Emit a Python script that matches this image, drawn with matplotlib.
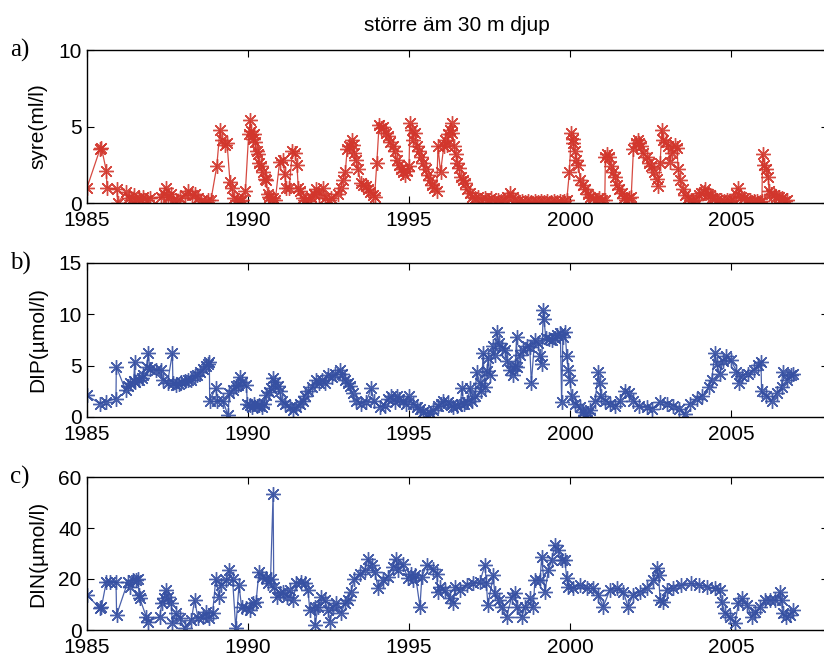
import matplotlib
matplotlib.use('Agg')
import matplotlib.pyplot as plt

# Données (année décimale, valeur)

# a) syre (ml/l)
syre_annee = [1985.00, 1985.40, 1985.45, 1985.60, 1985.62, 1985.93, 1985.95, 1986.20, 1986.30, 1986.38,
              1986.45, 1986.52, 1986.60, 1986.68, 1986.75, 1986.85, 1986.95, 1987.30, 1987.38, 1987.45,
              1987.52, 1987.60, 1987.68, 1987.78, 1987.90, 1988.05, 1988.15, 1988.25, 1988.35, 1988.45,
              1988.55, 1988.65, 1988.75, 1988.85, 1989.03, 1989.13, 1989.18, 1989.28, 1989.35, 1989.44,
              1989.50, 1989.58, 1989.65, 1989.75, 1989.82, 1989.92, 1990.02, 1990.07, 1990.10, 1990.14,
              1990.18, 1990.22, 1990.27, 1990.30, 1990.35, 1990.40, 1990.47, 1990.52, 1990.56, 1990.62,
              1990.66, 1990.72, 1990.78, 1990.85, 1990.98, 1991.08, 1991.14, 1991.18, 1991.28, 1991.38,
              1991.45, 1991.52, 1991.56, 1991.62, 1991.70, 1991.78, 1991.88, 1991.96, 1992.05, 1992.12,
              1992.22, 1992.33, 1992.40, 1992.50, 1992.58, 1992.80, 1992.88, 1992.95, 1993.02, 1993.08,
              1993.15, 1993.22, 1993.26, 1993.30, 1993.36, 1993.42, 1993.50, 1993.58, 1993.65, 1993.72,
              1993.80, 1993.88, 1993.93, 1994.00, 1994.07, 1994.12, 1994.20, 1994.28, 1994.35, 1994.42,
              1994.50, 1994.55, 1994.62, 1994.68, 1994.75, 1994.80, 1994.88, 1994.95, 1995.00, 1995.03,
              1995.08, 1995.12, 1995.18, 1995.24, 1995.30, 1995.38, 1995.45, 1995.52, 1995.58, 1995.65,
              1995.72, 1995.78, 1995.86, 1995.90, 1995.98, 1996.08, 1996.13, 1996.18, 1996.22, 1996.27,
              1996.32, 1996.35, 1996.40, 1996.45, 1996.50, 1996.55, 1996.60, 1996.67, 1996.74, 1996.80,
              1996.88, 1996.95, 1997.05, 1997.15, 1997.25, 1997.35, 1997.45, 1997.55, 1997.65, 1997.75,
              1997.85, 1997.95, 1998.05, 1998.14, 1998.22, 1998.30, 1998.40, 1998.50, 1998.60, 1998.70,
              1998.80, 1998.90, 1999.00, 1999.10, 1999.20, 1999.30, 1999.40, 1999.50, 1999.60, 1999.70,
              1999.80, 1999.90, 1999.98, 2000.04, 2000.08, 2000.10, 2000.15, 2000.20, 2000.26, 2000.32,
              2000.40, 2000.48, 2000.56, 2000.62, 2000.70, 2000.80, 2000.90, 2001.00, 2001.08, 2001.10,
              2001.16, 2001.22, 2001.28, 2001.35, 2001.40, 2001.46, 2001.52, 2001.60, 2001.68, 2001.75,
              2001.82, 2001.90, 2001.97, 2002.05, 2002.10, 2002.15, 2002.20, 2002.28, 2002.38, 2002.45,
              2002.52, 2002.60, 2002.69, 2002.74, 2002.80, 2002.85, 2002.90, 2002.97, 2003.05, 2003.10,
              2003.16, 2003.25, 2003.32, 2003.36, 2003.42, 2003.52, 2003.58, 2003.66, 2003.75, 2003.82,
              2003.90, 2004.00, 2004.08, 2004.15, 2004.20, 2004.28, 2004.35, 2004.42, 2004.50, 2004.58,
              2004.68, 2004.78, 2004.88, 2004.98, 2005.07, 2005.15, 2005.23, 2005.30, 2005.40, 2005.50,
              2005.60, 2005.70, 2005.80, 2005.90, 2005.96, 2005.98, 2006.04, 2006.10, 2006.16, 2006.18,
              2006.25, 2006.32, 2006.40, 2006.50, 2006.58, 2006.67, 2006.75]
syre = [1.0, 3.5, 3.6, 2.1, 1.0, 0.9, 0.0, 0.7, 0.3, 0.2,
        0.5, 0.1, 0.3, 0.2, 0.4, 0.2, 0.3, 0.4, 0.6, 1.0,
        0.4, 0.6, 0.2, 0.1, 0.3, 0.5, 0.8, 0.5, 0.6, 0.3,
        0.1, 0.0, 0.2, 0.2, 2.4, 4.8, 4.1, 3.8, 3.9, 1.4,
        1.0, 0.3, 0.2, 0.1, 0.2, 0.8, 4.5, 5.4, 4.7, 4.2,
        4.5, 4.0, 3.4, 3.2, 2.6, 2.4, 2.0, 1.6, 1.5, 0.6,
        0.4, 0.2, 0.3, 0.2, 2.7, 2.8, 1.9, 1.0, 1.0, 3.4,
        3.3, 2.5, 1.0, 0.8, 0.3, 0.2, 0.1, 0.4, 0.6, 0.9,
        0.5, 1.0, 0.3, 0.2, 0.3, 0.6, 1.0, 1.5, 2.0, 3.5,
        3.7, 4.1, 3.8, 3.3, 2.8, 2.2, 1.3, 1.2, 1.1, 0.9,
        0.7, 0.5, 0.4, 2.6, 5.1, 4.9, 5.0, 4.6, 4.4, 4.0,
        3.7, 3.4, 2.8, 2.5, 2.2, 2.0, 1.85, 2.1, 2.4, 5.2,
        4.8, 4.1, 4.6, 3.7, 3.4, 3.0, 2.6, 2.2, 1.8, 1.5,
        1.2, 1.0, 0.8, 3.7, 2.0, 3.7, 4.1, 3.8, 4.5, 4.8,
        5.2, 4.6, 3.7, 3.2, 2.6, 2.3, 1.7, 1.5, 1.3, 0.9,
        0.65, 0.4, 0.3, 0.4, 0.2, 0.3, 0.2, 0.3, 0.15, 0.2,
        0.1, 0.2, 0.4, 0.65, 0.4, 0.2, 0.1, 0.1, 0.05, 0.1,
        0.05, 0.1, 0.05, 0.1, 0.05, 0.1, 0.05, 0.1, 0.05, 0.1,
        0.1, 0.2, 2.0, 4.6, 4.2, 3.9, 3.4, 2.8, 2.5, 1.5,
        1.2, 0.9, 0.6, 0.4, 0.3, 0.2, 0.3, 0.2, 0.2, 3.0,
        3.2, 3.0, 2.4, 2.0, 1.7, 1.2, 0.9, 0.65, 0.3, 0.2,
        0.3, 0.4, 3.5, 3.9, 4.1, 3.9, 3.7, 3.3, 3.0, 2.6,
        2.4, 2.0, 1.6, 1.1, 2.6, 4.8, 4.1, 4.0, 3.7, 2.7,
        3.3, 3.8, 3.6, 2.2, 1.5, 0.9, 0.5, 0.3, 0.2, 0.1,
        0.2, 0.5, 0.65, 0.7, 0.9, 0.6, 0.5, 0.3, 0.3, 0.2,
        0.2, 0.1, 0.2, 0.15, 0.2, 0.6, 1.0, 0.4, 0.3, 0.2,
        0.2, 0.1, 0.1, 0.05, 0.1, 3.2, 2.5, 2.2, 1.7, 0.8,
        0.6, 0.5, 0.4, 0.4, 0.3, 0.1, 0.2]

# b) DIP (µmol/l)
dip_annee = [1985.00, 1985.40, 1985.60, 1985.90, 1985.91, 1986.20, 1986.28, 1986.35, 1986.45, 1986.48,
             1986.50, 1986.60, 1986.70, 1986.74, 1986.85, 1986.90, 1986.95, 1987.15, 1987.30, 1987.35,
             1987.50, 1987.65, 1987.67, 1987.75, 1987.85, 1987.93, 1988.05, 1988.15, 1988.24, 1988.35,
             1988.42, 1988.50, 1988.60, 1988.70, 1988.76, 1988.80, 1988.81, 1989.00, 1989.05, 1989.22,
             1989.38, 1989.42, 1989.52, 1989.62, 1989.69, 1989.75, 1989.82, 1989.95, 1989.98, 1990.05,
             1990.12, 1990.20, 1990.28, 1990.35, 1990.42, 1990.50, 1990.57, 1990.65, 1990.72, 1990.77,
             1990.85, 1990.92, 1990.98, 1991.05, 1991.15, 1991.30, 1991.40, 1991.50, 1991.60, 1991.70,
             1991.76, 1991.85, 1992.00, 1992.12, 1992.20, 1992.30, 1992.40, 1992.48, 1992.60, 1992.70,
             1992.85, 1992.92, 1993.00, 1993.10, 1993.16, 1993.25, 1993.36, 1993.50, 1993.67, 1993.83,
             1993.90, 1994.09, 1994.25, 1994.35, 1994.45, 1994.55, 1994.62, 1994.70, 1994.80, 1994.90,
             1995.00, 1995.12, 1995.25, 1995.34, 1995.45, 1995.55, 1995.65, 1995.76, 1995.90, 1996.00,
             1996.07, 1996.22, 1996.30, 1996.38, 1996.50, 1996.60, 1996.64, 1996.70, 1996.80, 1996.90,
             1996.95, 1997.05, 1997.10, 1997.20, 1997.25, 1997.30, 1997.35, 1997.42, 1997.46, 1997.50,
             1997.60, 1997.66, 1997.72, 1997.80, 1997.90, 1997.98, 1998.05, 1998.14, 1998.22, 1998.30,
             1998.34, 1998.36, 1998.45, 1998.55, 1998.65, 1998.75, 1998.80, 1998.90, 1999.00, 1999.07,
             1999.12, 1999.17, 1999.19, 1999.25, 1999.35, 1999.43, 1999.52, 1999.60, 1999.70, 1999.74,
             1999.78, 1999.85, 1999.90, 1999.95, 2000.00, 2000.05, 2000.15, 2000.30, 2000.40, 2000.47,
             2000.55, 2000.62, 2000.78, 2000.88, 2000.92, 2000.96, 2001.09, 2001.25, 2001.40, 2001.55,
             2001.70, 2001.82, 2001.97, 2002.15, 2002.38, 2002.55, 2002.80, 2003.00, 2003.20, 2003.40,
             2003.57, 2003.72, 2003.93, 2004.10, 2004.31, 2004.40, 2004.50, 2004.55, 2004.65, 2004.75,
             2004.86, 2005.00, 2005.17, 2005.25, 2005.35, 2005.54, 2005.70, 2005.85, 2005.93, 2005.95,
             2006.10, 2006.26, 2006.42, 2006.57, 2006.60, 2006.75, 2006.85, 2006.94]
dip = [2.1, 1.3, 1.5, 1.8, 4.9, 2.6, 3.0, 3.3, 3.5, 5.4,
       3.4, 3.6, 3.8, 4.1, 4.9, 6.2, 4.7, 4.6, 4.6, 3.6,
       3.3, 6.2, 3.3, 3.1, 3.2, 3.4, 3.5, 3.6, 3.6, 4.0,
       4.1, 4.4, 4.7, 5.0, 5.2, 5.4, 1.6, 2.8, 1.6, 1.6,
       0.15, 2.3, 2.6, 3.0, 3.1, 3.9, 3.4, 3.1, 1.3, 1.2,
       1.0, 1.3, 1.1, 1.2, 1.0, 1.3, 2.1, 2.4, 2.8, 3.8,
       3.4, 3.0, 2.5, 1.6, 1.3, 1.0, 0.65, 1.0, 1.3, 1.6,
       2.0, 2.5, 2.9, 3.6, 3.3, 3.6, 3.3, 4.1, 3.9, 4.2,
       4.6, 4.2, 3.6, 3.3, 3.0, 2.3, 1.6, 1.3, 1.5, 2.8,
       1.6, 1.0, 1.1, 1.8, 2.0, 1.5, 2.0, 1.8, 1.6, 1.3,
       2.0, 1.3, 1.0, 0.8, 0.5, 0.3, 0.4, 0.65, 1.1, 1.3,
       1.6, 1.5, 1.2, 1.0, 1.1, 1.3, 2.8, 1.3, 1.5, 2.8,
       1.6, 2.0, 4.4, 3.3, 2.5, 6.2, 2.9, 4.5, 5.7, 4.1,
       6.9, 6.0, 8.3, 7.2, 6.7, 6.5, 5.5, 4.6, 4.1, 5.0,
       7.8, 4.9, 6.0, 6.5, 6.9, 6.8, 3.3, 7.5, 7.2, 5.9,
       5.2, 10.4, 9.5, 7.7, 7.6, 7.5, 7.7, 8.0, 8.2, 1.5,
       7.8, 8.3, 5.9, 4.6, 3.6, 2.0, 1.3, 1.0, 0.5, 0.15,
       0.4, 0.65, 1.6, 4.4, 3.3, 2.0, 1.6, 1.3, 1.1, 1.6,
       2.5, 2.3, 1.6, 1.1, 1.0, 0.8, 1.5, 1.3, 1.1, 0.8,
       0.3, 1.3, 1.8, 2.0, 2.9, 3.6, 6.2, 5.2, 4.2, 5.5,
       5.9, 5.6, 4.4, 3.3, 4.0, 4.2, 4.6, 5.1, 5.4, 2.5,
       2.0, 1.6, 2.3, 2.9, 4.4, 3.6, 4.1, 4.2]

# c) DIN (µmol/l)
din_annee = [1985.00, 1985.40, 1985.45, 1985.60, 1985.70, 1985.90, 1985.92, 1986.27, 1986.35, 1986.42,
             1986.53, 1986.58, 1986.62, 1986.64, 1986.84, 1986.88, 1987.26, 1987.32, 1987.38, 1987.46,
             1987.52, 1987.62, 1987.65, 1987.77, 1987.88, 1988.03, 1988.24, 1988.34, 1988.45, 1988.60,
             1988.70, 1988.80, 1988.90, 1989.00, 1989.10, 1989.15, 1989.33, 1989.41, 1989.52, 1989.62,
             1989.72, 1989.80, 1989.95, 1990.05, 1990.15, 1990.25, 1990.34, 1990.45, 1990.57, 1990.62,
             1990.70, 1990.78, 1990.80, 1990.90, 1991.00, 1991.10, 1991.20, 1991.30, 1991.40, 1991.50,
             1991.65, 1991.76, 1991.86, 1991.92, 1992.07, 1992.08, 1992.18, 1992.28, 1992.38, 1992.48,
             1992.54, 1992.65, 1992.74, 1992.90, 1993.00, 1993.10, 1993.20, 1993.30, 1993.47, 1993.62,
             1993.73, 1993.84, 1993.94, 1994.04, 1994.20, 1994.35, 1994.50, 1994.59, 1994.66, 1994.81,
             1994.96, 1995.07, 1995.12, 1995.20, 1995.34, 1995.40, 1995.55, 1995.75, 1995.86, 1995.90,
             1995.95, 1996.12, 1996.28, 1996.38, 1996.43, 1996.58, 1996.80, 1997.00, 1997.20, 1997.36,
             1997.40, 1997.45, 1997.62, 1997.66, 1997.78, 1997.88, 1998.03, 1998.19, 1998.30, 1998.34,
             1998.50, 1998.60, 1998.76, 1998.86, 1998.91, 1999.07, 1999.12, 1999.22, 1999.33, 1999.43,
             1999.53, 1999.64, 1999.74, 1999.84, 1999.90, 1999.95, 2000.10, 2000.31, 2000.52, 2000.72,
             2000.88, 2001.03, 2001.24, 2001.45, 2001.66, 2001.80, 2001.96, 2002.17, 2002.38, 2002.59,
             2002.70, 2002.75, 2002.80, 2002.90, 2003.00, 2003.20, 2003.46, 2003.76, 2004.02, 2004.24,
             2004.50, 2004.66, 2004.71, 2004.81, 2004.97, 2005.12, 2005.23, 2005.33, 2005.50, 2005.65,
             2005.75, 2005.90, 2006.06, 2006.22, 2006.37, 2006.53, 2006.57, 2006.60, 2006.70, 2006.83,
             2006.93]
din = [13.7, 8.5, 9.0, 19.0, 19.0, 19.0, 5.9, 19.0, 17.0, 19.6,
       19.6, 20.0, 13.7, 12.4, 5.2, 3.3, 5.2, 10.4, 12.4, 15.7,
       13.0, 10.4, 2.6, 6.5, 4.6, 0.65, 3.9, 11.7, 4.6, 5.2,
       7.2, 4.6, 6.5, 20.0, 13.0, 17.6, 19.6, 23.5, 20.0, 0.65,
       17.6, 9.1, 8.5, 7.8, 10.4, 11.0, 22.8, 20.9, 20.2, 18.3,
       20.0, 53.5, 17.0, 13.0, 14.4, 15.0, 13.0, 15.7, 11.7, 18.3,
       19.0, 18.3, 15.7, 7.8, 9.1, 2.0, 9.1, 13.0, 11.7, 7.8,
       3.3, 9.1, 10.4, 6.5, 10.4, 11.7, 15.0, 20.0, 22.0, 23.5,
       28.0, 25.5, 22.8, 16.3, 19.6, 20.9, 24.8, 28.0, 23.5, 26.0,
       20.2, 22.0, 19.6, 21.5, 9.1, 20.9, 25.5, 24.0, 22.0, 15.0,
       17.0, 15.7, 12.4, 10.4, 17.0, 15.7, 17.6, 18.3, 19.0, 25.5,
       18.3, 9.8, 21.5, 14.4, 11.7, 9.1, 5.2, 13.0, 14.4, 9.1,
       5.2, 9.1, 12.4, 9.1, 19.6, 19.6, 28.7, 15.0, 23.5, 27.4,
       33.3, 31.3, 27.4, 27.4, 20.2, 17.0, 16.3, 17.6, 16.3, 16.3,
       13.7, 9.1, 15.7, 16.3, 15.0, 9.1, 13.7, 15.0, 16.3, 19.6,
       24.2, 21.5, 11.7, 11.0, 15.7, 16.3, 17.6, 18.3, 17.6, 17.0,
       16.3, 15.7, 11.0, 6.5, 5.2, 2.6, 10.4, 12.4, 9.8, 5.2,
       7.2, 9.1, 11.7, 11.7, 11.7, 15.0, 11.7, 6.5, 5.2, 5.9,
       7.8]

rouge = '#d2362c'
bleu = '#3650a2'

plt.rcParams['font.family'] = ['Liberation Sans', 'DejaVu Sans']

fig = plt.figure(figsize=(8.24, 6.58), dpi=100)

# positions des axes (en fraction de la figure)
gauche = 87 / 824
largeur = (827.6 - 87) / 824
panneaux = [
    (syre_annee, syre, rouge, 'syre(ml/l)', [0, 5, 10], (0, 10), 'a)', 203, 50),
    (dip_annee, dip, bleu, 'DIP(µmol/l)', [0, 5, 10, 15], (0, 15), 'b)', 417, 263),
    (din_annee, din, bleu, 'DIN(µmol/l)', [0, 20, 40, 60], (0, 60), 'c)', 630, 477),
]

for annee, val, couleur, label, yticks, ylim, lettre, bas, haut in panneaux:
    ax = fig.add_axes([gauche, 1 - bas / 658, largeur, (bas - haut) / 658])
    ax.plot(annee, val, color=couleur, linewidth=0.9, marker=(8, 2, 0),
            markersize=10.5, markeredgewidth=1.0, markeredgecolor=couleur, alpha=0.9)
    ax.set_xlim(1985, 2008)
    ax.set_ylim(*ylim)
    ax.set_xticks([1985, 1990, 1995, 2000, 2005])
    ax.set_yticks(yticks)
    ax.tick_params(direction='in', top=True, right=True, length=5, width=0.8,
                   labelsize=15, pad=4)
    ax.tick_params(axis='x', pad=6)
    ax.set_ylabel(label, fontsize=15, labelpad=8)
    for s in ax.spines.values():
        s.set_linewidth(1.0)
    fig.text(10 / 824, 1 - haut / 658, lettre, family='Liberation Serif',
             fontsize=18, va='center', ha='left')
    if lettre == 'a)':
        ax.set_title('större äm 30 m djup', fontsize=15, pad=14)

plt.savefig('out.png', dpi=100)
